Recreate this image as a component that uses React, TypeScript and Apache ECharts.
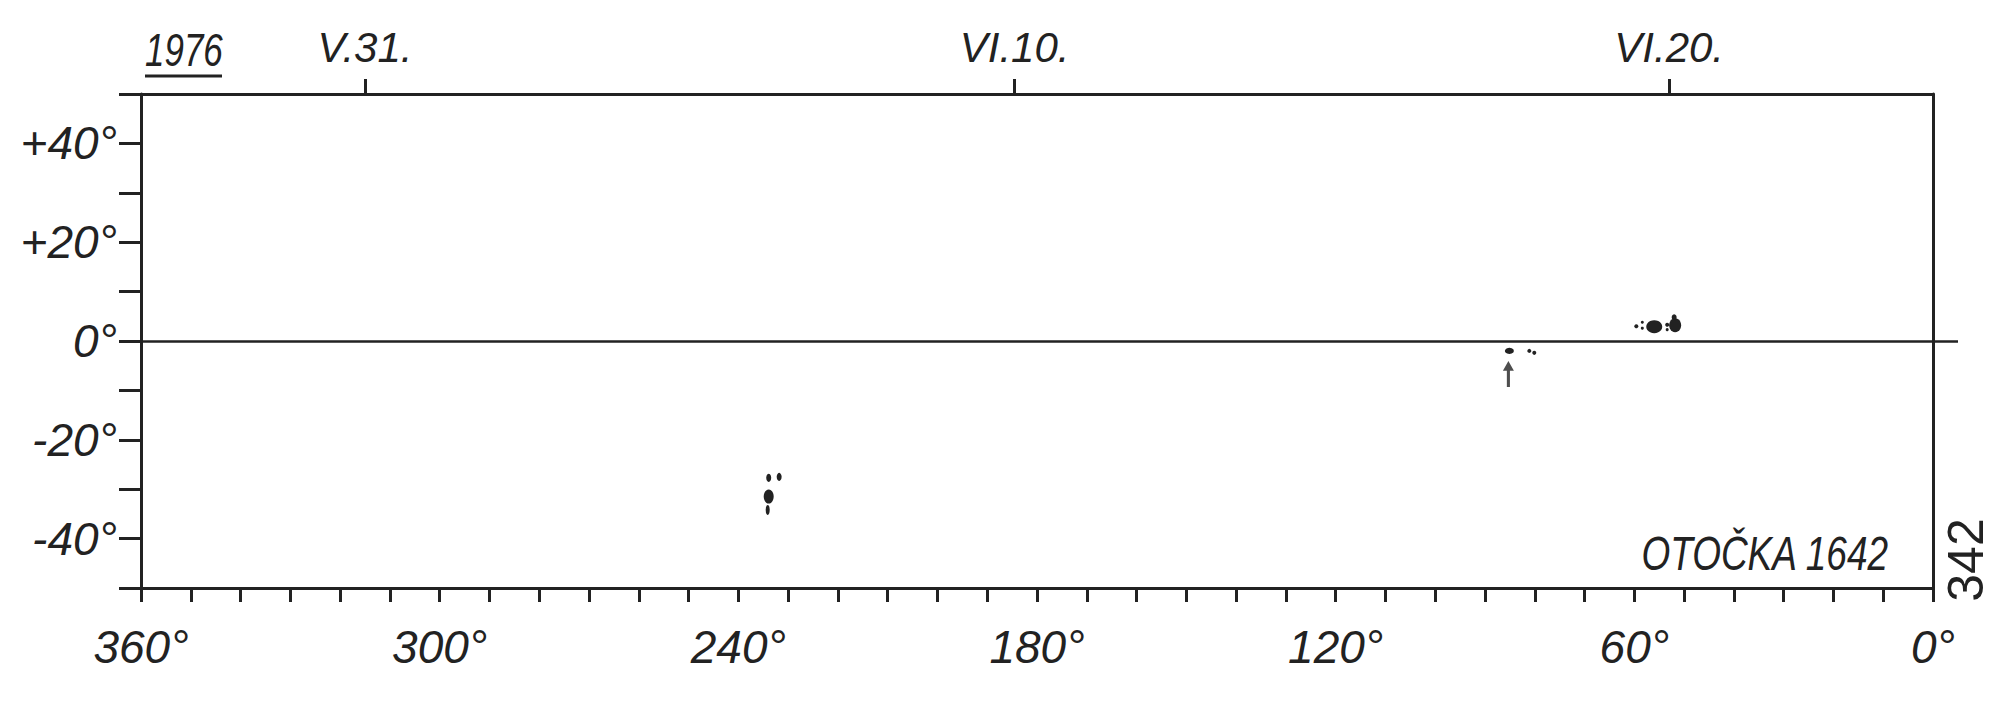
import React, { useEffect, useRef } from "react";
import * as echarts from "echarts";

// ---- data ----
const lonTicks = [360, 300, 240, 180, 120, 60, 0];
const latLabels = [40, 20, 0, -20, -40];
const dateLon = [315, 184.5, 53];
const dateLabels = ["V.31.", "VI.10.", "VI.20."];

const spotLon = [233.9, 234.1, 233.9, 231.8, 85.1, 81.1, 80.1, 59.6, 58.4, 58.4, 56.0, 53.4, 53.4, 51.8, 52.0];
const spotLat = [-31.5, -34.2, -27.7, -27.5, -2.0, -2.0, -2.4, 3.0, 3.8, 2.6, 2.9, 3.3, 2.3, 3.2, 4.8];
const spotW = [10, 4, 5, 5, 9, 4, 4, 4, 3, 3, 16, 4, 3, 12, 5];
const spotH = [14, 10, 8, 8, 6, 4, 4, 4, 3, 3, 13, 4, 3, 14, 6];

const arrowLon = [85.3];
const arrowLat = [-6.7];

const INK = "#222";
const FONT = "'Liberation Sans', Arial, sans-serif";

export default function App() {
  const ref = useRef<HTMLDivElement>(null);
  useEffect(() => {
    if (!ref.current) return;
    const chart = echarts.init(ref.current, undefined, { renderer: "svg" });
    const spots = spotLon.map((lon, i) => [lon, spotLat[i], spotW[i], spotH[i]]);
    const arrows = arrowLon.map((lon, i) => [lon, arrowLat[i]]);
    const lineStyle = { color: INK, width: 3 };
    const labelBase = { fontSize: 46, fontStyle: "italic", fontFamily: FONT, color: INK };
    const option = {
      animation: false,
      backgroundColor: "#ffffff",
      grid: { left: 141, right: 67, top: 94, bottom: 124 },
      xAxis: [
        {
          type: "value",
          min: 0,
          max: 360,
          interval: 10,
          inverse: true,
          position: "bottom",
          axisLine: { show: true, onZero: false, lineStyle },
          axisTick: { show: true, length: 14, lineStyle },
          splitLine: { show: false },
          axisLabel: {
            ...labelBase,
            margin: 36,
            showMinLabel: true,
            showMaxLabel: true,
            formatter: (v: number) => (lonTicks.indexOf(v) >= 0 ? v + "°" : ""),
          },
        },
        {
          type: "value",
          min: 0,
          max: 360,
          inverse: true,
          position: "top",
          axisLine: { show: true, onZero: false, lineStyle },
          axisTick: { show: true, length: 15, lineStyle, customValues: dateLon },
          splitLine: { show: false },
          axisLabel: {
            ...labelBase,
            fontSize: 42,
            margin: 26,
            customValues: dateLon,
            formatter: (v: number) => {
              let best = 0;
              dateLon.forEach((d, i) => {
                if (Math.abs(d - v) < Math.abs(dateLon[best] - v)) best = i;
              });
              return dateLabels[best];
            },
          },
        },
      ],
      yAxis: [
        {
          type: "value",
          min: -50,
          max: 50,
          interval: 10,
          position: "left",
          axisLine: { show: true, onZero: false, lineStyle },
          axisTick: { show: true, length: 22, lineStyle },
          splitLine: { show: false },
          axisLabel: {
            ...labelBase,
            margin: 24,
            showMinLabel: true,
            showMaxLabel: true,
            formatter: (v: number) =>
              latLabels.indexOf(v) >= 0 ? (v > 0 ? "+" + v : v < 0 ? "-" + Math.abs(v) : "0") + "°" : "",
          },
        },
        {
          type: "value",
          min: -50,
          max: 50,
          position: "right",
          axisLine: { show: true, onZero: false, lineStyle },
          axisTick: { show: true, length: 25, lineStyle: { color: INK, width: 2.5 }, customValues: [0] },
          axisLabel: { show: false },
          splitLine: { show: false },
        },
      ],
      series: [
        {
          type: "scatter",
          xAxisIndex: 0,
          yAxisIndex: 0,
          data: spots,
          symbol: "circle",
          symbolSize: (d: number[]) => [d[2], d[3]],
          itemStyle: { color: INK, opacity: 1 },
          markLine: {
            silent: true,
            symbol: ["none", "none"],
            label: { show: false },
            lineStyle: { color: INK, width: 2.5, type: "solid" },
            data: [{ yAxis: 0 }],
          },
        },
        {
          type: "scatter",
          xAxisIndex: 0,
          yAxisIndex: 0,
          data: arrows,
          symbol: "path://M5 0 L10 9 L6.4 9 L6.4 24 L3.6 24 L3.6 9 L0 9 Z",
          symbolSize: [11, 26],
          itemStyle: { color: INK },
        },
      ],
      graphic: [
        {
          type: "text",
          x: 145,
          y: 73,
          scaleX: 0.76,
          style: {
            text: "1976",
            fontSize: 46,
            fontStyle: "italic",
            fontFamily: FONT,
            fill: INK,
            textAlign: "left",
            textVerticalAlign: "bottom",
          },
        },
        {
          type: "line",
          shape: { x1: 145, y1: 76, x2: 222, y2: 76 },
          style: { stroke: INK, lineWidth: 3 },
        },
        {
          type: "text",
          x: 1888,
          y: 577,
          scaleX: 0.77,
          style: {
            text: "OTOČKA 1642",
            fontSize: 48,
            fontStyle: "italic",
            fontFamily: FONT,
            fill: INK,
            textAlign: "right",
            textVerticalAlign: "bottom",
          },
        },
        {
          type: "text",
          x: 1966,
          y: 560,
          rotation: Math.PI / 2,
          style: {
            text: "342",
            fontSize: 50,
            fontFamily: FONT,
            fill: INK,
            textAlign: "center",
            textVerticalAlign: "middle",
          },
        },
      ],
    };
    chart.setOption(option as any);
    return () => chart.dispose();
  }, []);
  return (
    <div
      ref={ref}
      style={{ position: "fixed", left: 0, top: 0, width: 2000, height: 712, background: "#fff" }}
    />
  );
}
